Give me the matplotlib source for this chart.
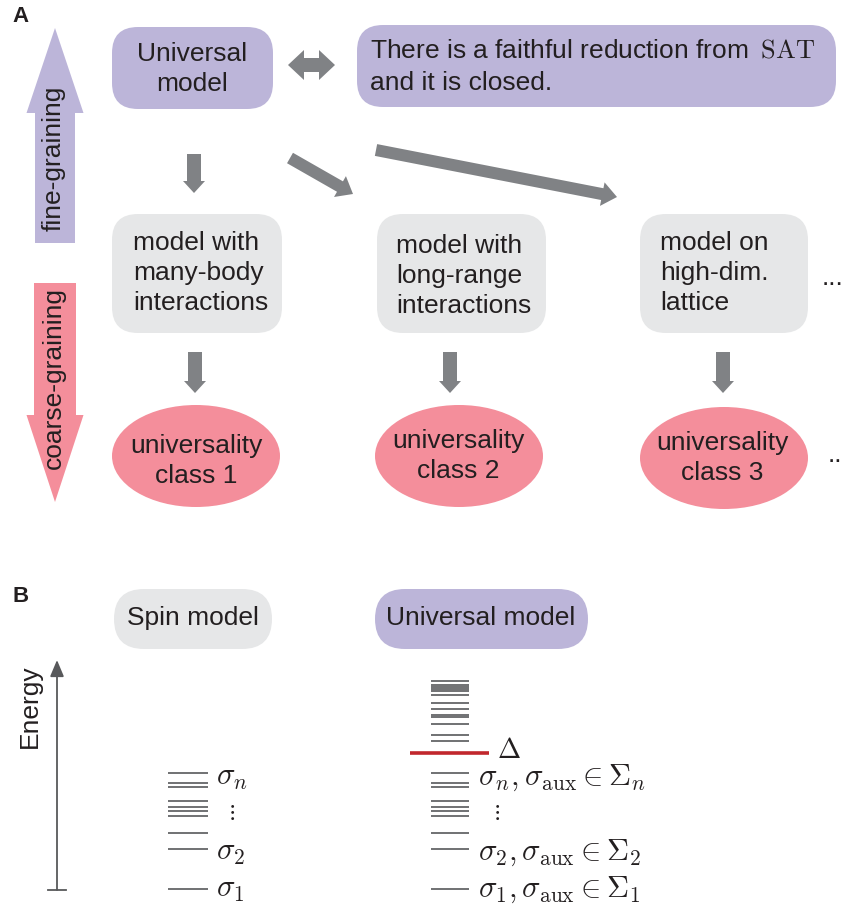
import matplotlib
matplotlib.use('Agg')
import matplotlib.pyplot as plt
from matplotlib.patches import FancyBboxPatch, Ellipse, FancyArrow, Polygon

plt.rcParams['font.family'] = ['Liberation Sans', 'DejaVu Sans']
plt.rcParams['mathtext.fontset'] = 'cm'

# ---------------- data ----------------
top_label = "Universal\nmodel"
top_statement = ["There is a faithful reduction from \u2009$\\mathrm{SAT}$", "and it is closed."]
model_labels = ["model with\nmany-body\ninteractions",
                "model with\nlong-range\ninteractions",
                "model on\nhigh-dim.\nlattice"]
class_labels = ["universality\nclass 1", "universality\nclass 2", "universality\nclass 3"]
side_labels = ["fine-graining", "coarse-graining"]
panel_b_titles = ["Spin model", "Universal model"]
# energy levels (arbitrary units above the ground state)
spin_levels = [0, 40.5, 56, 73.7, 78, 82.3, 88.3, 102.3, 106.3, 116.3]
aux_high_levels = [148.3, 154.3, 165.7, 172, 174.3, 180.7, 186.7,
                   194.3, 198, 200.5, 202.5, 204.5, 208.3]
gap_energy = 136.7
spin_level_labels = [(0, r'$\sigma_1$'), (37, r'$\sigma_2$'), (112, r'$\sigma_n$')]
univ_level_labels = [(0, r'$\sigma_1, \sigma_{\rm aux} \in \Sigma_1$'),
                     (37, r'$\sigma_2, \sigma_{\rm aux} \in \Sigma_2$'),
                     (112, r'$\sigma_n, \sigma_{\rm aux} \in \Sigma_n$')]

# ---------------- style ----------------
PURPLE = '#BCB5D9'
GRAYBOX = '#E6E7E8'
PINK = '#F48E9B'
ARROW = '#808285'
TXT = '#231F20'
LEVEL = '#58595B'
RED = '#C1272D'
FS = 19
LS = 1.32
MFS = 22

W, H = 848, 907
fig = plt.figure(figsize=(W / 100, H / 100), dpi=100)
ax = fig.add_axes([0, 0, 1, 1])
ax.set_xlim(0, W)
ax.set_ylim(H, 0)
ax.axis('off')


def rbox(x0, y0, x1, y1, color, r):
    ax.add_patch(FancyBboxPatch((x0, y0), x1 - x0, y1 - y0,
                                boxstyle=f"round,pad=0,rounding_size={r}",
                                fc=color, ec='none'))


def arrow(x0, y0, x1, y1, w=14, hw=24, hl=12, color=ARROW):
    ax.add_patch(FancyArrow(x0, y0, x1 - x0, y1 - y0, width=w, head_width=hw,
                            head_length=hl, length_includes_head=True,
                            fc=color, ec='none'))


# ---------------- panel A ----------------
ax.text(12, 17, 'A', fontsize=16, fontweight='bold', color=TXT, va='center')

# side arrows
arrow(55, 243, 55, 28, w=40, hw=57, hl=85, color=PURPLE)
arrow(55, 283, 55, 502, w=42, hw=57, hl=87, color=PINK)
ax.text(54, 158, side_labels[0], rotation=90, fontsize=FS, color=TXT,
        ha='center', va='center')
ax.text(54, 378, side_labels[1], rotation=90, fontsize=FS, color=TXT,
        ha='center', va='center')

# top boxes
rbox(112, 27, 273, 109, PURPLE, 26)
ax.text(192, 69, top_label, fontsize=FS, color=TXT, ha='center', va='center',
        linespacing=LS)
rbox(357, 25, 836, 107, PURPLE, 26)
ax.text(370, 50, top_statement[0], fontsize=FS, color=TXT, ha='left', va='center')
ax.text(370, 83, top_statement[1], fontsize=FS, color=TXT, ha='left', va='center')

# double arrow
ax.add_patch(Polygon([(288, 65), (304, 50), (304, 58), (319, 58), (319, 50),
                      (335, 65), (319, 80), (319, 72), (304, 72), (304, 80)],
                     closed=True, fc=ARROW, ec='none'))

# arrows from universal model
arrow(194, 154, 194, 193, w=14, hw=22, hl=12)
arrow(290, 158, 353, 194, w=12, hw=24, hl=15)
arrow(376, 150, 617, 197, w=12, hw=24, hl=15)

# model boxes and classes
box_x = [(112, 282), (377, 546), (640, 808)]
text_x = [133, 396, 660]
text_y = [273, 276, 273]
ell_cx = [196, 459, 724]
ell_cy = [456, 456, 458]
cls_tx = [196, 458, 722]
cls_ty = [461, 456, 458]
arr_x = [195, 450, 723]
for i in range(3):
    rbox(box_x[i][0], 214, box_x[i][1], 333, GRAYBOX, 26)
    ax.text(text_x[i], text_y[i], model_labels[i], fontsize=FS, color=TXT,
            ha='left', va='center', linespacing=LS)
    arrow(arr_x[i], 352, arr_x[i], 393, w=14, hw=22, hl=12)
    ax.add_patch(Ellipse((ell_cx[i], ell_cy[i]), 168, 102, fc=PINK, ec='none'))
    ax.text(cls_tx[i], cls_ty[i], class_labels[i], fontsize=FS, color=TXT,
            ha='center', va='center', linespacing=LS)

ax.text(822, 278, '...', fontsize=FS, color=TXT, ha='left', va='center')
ax.text(828, 455, '..', fontsize=FS, color=TXT, ha='left', va='center')

# ---------------- panel B ----------------
ax.text(12, 597, 'B', fontsize=16, fontweight='bold', color=TXT, va='center')
rbox(114, 589, 272, 649, GRAYBOX, 30)
ax.text(193, 618, panel_b_titles[0], fontsize=FS, color=TXT, ha='center', va='center')
rbox(375, 589, 588, 649, PURPLE, 30)
ax.text(481, 618, panel_b_titles[1], fontsize=FS, color=TXT, ha='center', va='center')

# energy axis
BASE = 889.3
ax.annotate('', xy=(57, 660), xytext=(57, 890),
            arrowprops=dict(arrowstyle='-|>,head_length=1.0,head_width=0.42',
                            color=LEVEL, lw=1.3, shrinkA=0, shrinkB=0))
ax.plot([48, 66], [890, 890], color=LEVEL, lw=1.3)
ax.text(30, 706, 'Energy', rotation=90, fontsize=FS, color=TXT,
        ha='center', va='center')

# spin model levels
ax.hlines([BASE - e for e in spin_levels], 168, 208, color=LEVEL, lw=1.2)
for e, lab in spin_level_labels:
    ax.text(216, BASE - e, lab, fontsize=MFS, color=TXT, ha='left', va='center')
ax.text(231, 813, r'$\vdots$', fontsize=16, color=TXT, ha='center', va='center')

# universal model levels
ax.hlines([BASE - e for e in spin_levels], 431, 469, color=LEVEL, lw=1.2)
ax.hlines([BASE - e for e in aux_high_levels], 431, 469, color=LEVEL, lw=1.2)
ax.hlines(BASE - gap_energy, 410, 489, color=RED, lw=2.6)
ax.text(497, BASE - gap_energy - 2, r'$\Delta$', fontsize=20, color=TXT,
        ha='left', va='center')
for e, lab in univ_level_labels:
    ax.text(478, BASE - e, lab, fontsize=MFS, color=TXT, ha='left', va='center')
ax.text(496, 812, r'$\vdots$', fontsize=16, color=TXT, ha='center', va='center')

fig.savefig('out.png', dpi=100)
